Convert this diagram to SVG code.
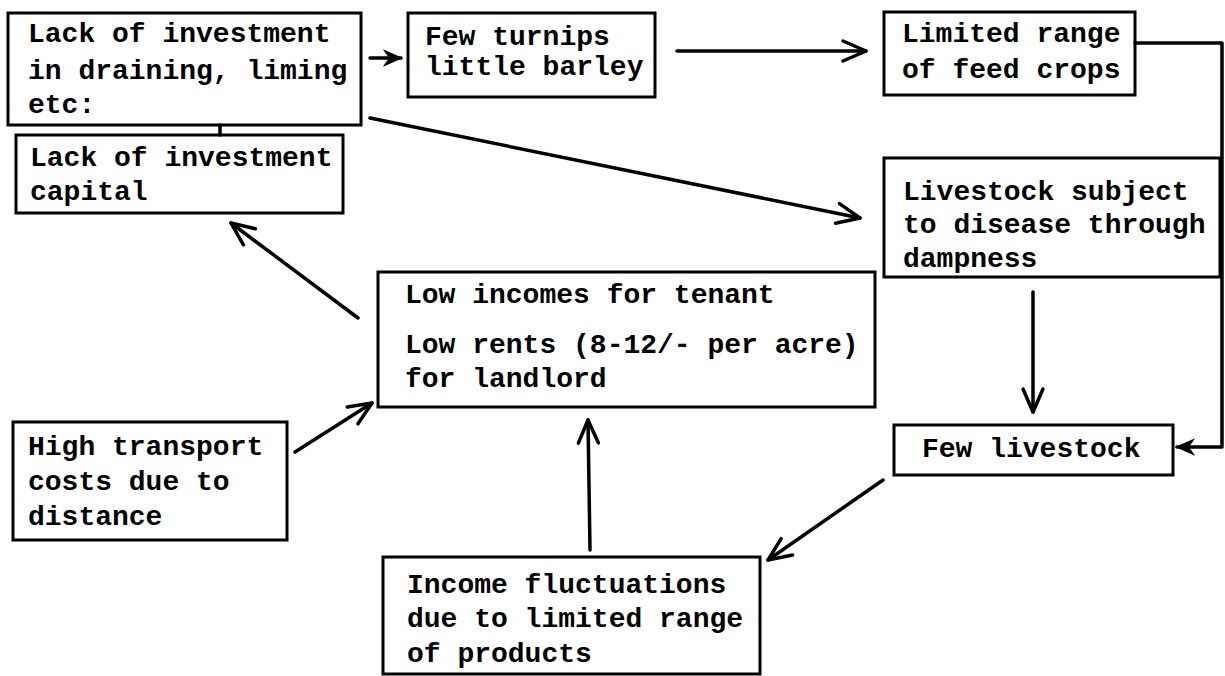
<svg xmlns="http://www.w3.org/2000/svg" width="1225" height="676" viewBox="0 0 1225 676">
<style>
.box{fill:#fff;stroke:#000;stroke-width:3}
.t{font-family:"Liberation Mono","Courier New",monospace;font-size:28px;font-weight:bold;fill:#000}
.c{fill:none;stroke:#000;stroke-width:3.5;stroke-linecap:round;stroke-linejoin:round}
</style>
<defs>
<marker id="arr" viewBox="-3 -14 30 28" refX="23" refY="0" markerWidth="30" markerHeight="28" markerUnits="userSpaceOnUse" orient="auto"><path d="M0,-10 L23,0 L0,10" fill="none" stroke="#000" stroke-width="3.5" stroke-linecap="round" stroke-linejoin="round"/></marker>
<marker id="arrs" viewBox="-2 -9 20 18" refX="16" refY="0" markerWidth="20" markerHeight="18" markerUnits="userSpaceOnUse" orient="auto"><path d="M0,-7 L16,0 L0,7 L5,0 Z" fill="#000" stroke="#000" stroke-width="1.5"/></marker>
</defs>
<rect width="1225" height="676" fill="#fff"/>
<g id="n_invest_drain">
<rect class="box" x="8" y="13" width="353" height="112"/>
<text class="t" x="28" y="42">Lack of investment</text>
<text class="t" x="28" y="79">in draining, liming</text>
<text class="t" x="28" y="113">etc:</text>
</g>
<g id="n_invest_capital">
<rect class="box" x="16" y="135" width="327" height="78"/>
<text class="t" x="30" y="166">Lack of investment</text>
<text class="t" x="30" y="200">capital</text>
</g>
<g id="n_turnips">
<rect class="box" x="408" y="13" width="247" height="84"/>
<text class="t" x="425" y="45">Few turnips</text>
<text class="t" x="425" y="75">little barley</text>
</g>
<g id="n_feed">
<rect class="box" x="884" y="12" width="251" height="83"/>
<text class="t" x="902" y="42">Limited range</text>
<text class="t" x="902" y="78">of feed crops</text>
</g>
<g id="n_disease">
<rect class="box" x="884" y="158" width="336" height="119"/>
<text class="t" x="903" y="200">Livestock subject</text>
<text class="t" x="903" y="233">to disease through</text>
<text class="t" x="903" y="267">dampness</text>
</g>
<g id="n_low_incomes">
<rect class="box" x="378" y="272" width="497" height="135"/>
<text class="t" x="405" y="303">Low incomes for tenant</text>
<text class="t" x="405" y="353">Low rents (8-12/- per acre)</text>
<text class="t" x="405" y="387">for landlord</text>
</g>
<g id="n_transport">
<rect class="box" x="13" y="422" width="274" height="118"/>
<text class="t" x="28" y="455">High transport</text>
<text class="t" x="28" y="490">costs due to</text>
<text class="t" x="28" y="525">distance</text>
</g>
<g id="n_few_livestock">
<rect class="box" x="894" y="425" width="279" height="50"/>
<text class="t" x="922" y="457">Few livestock</text>
</g>
<g id="n_fluctuations">
<rect class="box" x="383" y="557" width="377" height="117"/>
<text class="t" x="407" y="593">Income fluctuations</text>
<text class="t" x="407" y="627">due to limited range</text>
<text class="t" x="407" y="662">of products</text>
</g>
<g id="connectors">
<line class="c" x1="370" y1="58" x2="401" y2="58" marker-end="url(#arrs)"/>
<line class="c" x1="677" y1="51" x2="866" y2="51" marker-end="url(#arr)"/>
<polyline class="c" points="1135,43 1222,43 1222,447 1177,447" marker-end="url(#arrs)"/>
<line class="c" x1="370" y1="118" x2="860" y2="218" marker-end="url(#arr)"/>
<line class="c" x1="1033" y1="292" x2="1033" y2="412" marker-end="url(#arr)"/>
<line class="c" x1="883" y1="480" x2="768" y2="560" marker-end="url(#arr)"/>
<line class="c" x1="590" y1="550" x2="588" y2="420" marker-end="url(#arr)"/>
<line class="c" x1="358" y1="318" x2="231" y2="223" marker-end="url(#arr)"/>
<line class="c" x1="295" y1="452" x2="372" y2="403" marker-end="url(#arr)"/>
<line class="c" x1="220" y1="125" x2="220" y2="135"/>
</g>
</svg>
